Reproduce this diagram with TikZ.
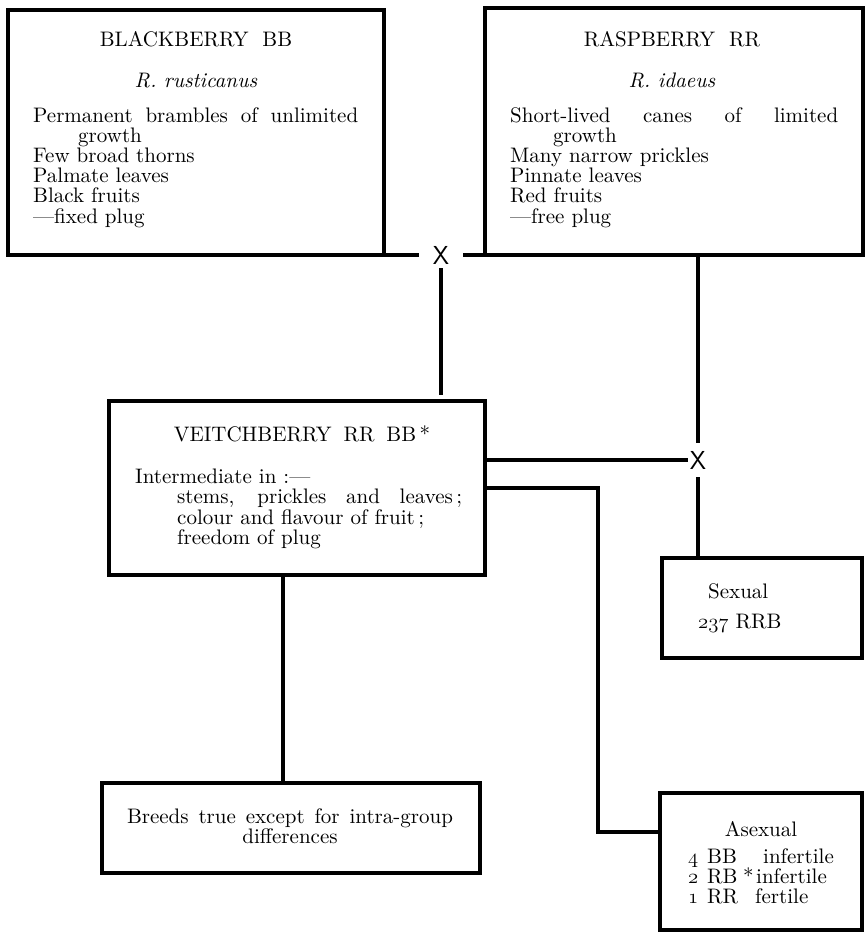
\documentclass[tikz,border=0pt]{standalone}
\usepackage{fontspec}
\setmainfont{lmroman10-regular.otf}[ItalicFont=lmroman10-italic.otf, Ligatures=TeX]
\usetikzlibrary{calc}
\newcommand\mainfs{\fontsize{21}{20.2}\selectfont}
\newcommand\osf[1]{{\fontencoding{OML}\fontfamily{cmm}\fontseries{m}\fontshape{it}\selectfont #1}}
\tikzset{
  box/.style={draw, line width=4pt, rectangle, inner sep=0pt, outer sep=0pt},
  conn/.style={line width=4pt},
  txt/.style={inner sep=0pt, font=\mainfs},
  cross/.style={font=\fontsize{26}{26}\selectfont\sffamily}
}
\begin{document}
\begin{tikzpicture}[x=1pt,y=-1pt]
\path[use as bounding box] (0,0) rectangle (866,934);

% boxes
\node[box, minimum width=375.5pt, minimum height=244.5pt] (bb) at (195.75,132.75) {};
\node[box, minimum width=377.5pt, minimum height=247pt] (rr) at (673.75,131.5) {};
\node[box, minimum width=376pt, minimum height=173.5pt] (vb) at (297,487.75) {};
\node[box, minimum width=200pt, minimum height=100pt] (sx) at (762,607.5) {};
\node[box, minimum width=377.5pt, minimum height=90pt] (br) at (290.75,827.5) {};
\node[box, minimum width=202.5pt, minimum height=137.5pt] (as) at (760.75,861.25) {};

% crosses
\node[cross, inner xsep=14pt, inner ysep=4pt] (x1) at (441,255) {X};
\node[cross, inner xsep=2pt, inner ysep=8pt] (x2) at (698,460) {X};

% Blackberry text
\node[txt, anchor=base] (bbt) at (196,47) {BLACKBERRY\hspace{14pt}BB};
\node[txt, anchor=base] (bbs) at (196,87) {\textit{R. rusticanus}};
\node[txt, anchor=base west] (bbl) at (33,122) {\parbox[t]{330pt}{\mainfs
\makebox[325pt][s]{Permanent brambles of unlimited}\\
\hspace*{45pt}growth\\
Few broad thorns\\
Palmate leaves\\
Black fruits\\
\textemdash fixed plug}};

% Raspberry text
\node[txt, anchor=base] (rrt) at (672,47) {RASPBERRY\hspace{14pt}RR};
\node[txt, anchor=base] (rrs) at (672,87) {\textit{R. idaeus}};
\node[txt, anchor=base west] (rrl) at (510,122) {\parbox[t]{335pt}{\mainfs
\makebox[328pt][s]{Short-lived canes of limited}\\
\hspace*{43pt}growth\\
Many narrow prickles\\
Pinnate leaves\\
Red fruits\\
\textemdash free plug}};

% Veitchberry text
\node[txt, anchor=base] (vbt) at (302,441) {VEITCHBERRY\hspace{12pt}RR\hspace{12pt}BB\,*};
\node[txt, anchor=base west] (vbl) at (135,483) {\parbox[t]{340pt}{\mainfs\setlength\baselineskip{20.5pt}
Intermediate in :\textemdash\\
\hspace*{42pt}\makebox[285pt][s]{stems, prickles and leaves\,;}\\
\hspace*{42pt}colour and flavour of fruit\,;\\
\hspace*{42pt}freedom of plug}};

% Sexual text
\node[txt, anchor=base west] (sx1) at (708,598) {Sexual};
\node[txt, anchor=base west] (sx2) at (698,628) {\osf{237} RRB};

% Breeds text
\node[txt, anchor=base] (br1) at (290,823) {\makebox[326pt][s]{Breeds true except for intra-group}};
\node[txt, anchor=base] (br2) at (290,843) {differences};

% Asexual text
\node[txt, anchor=base] (as1) at (761,836) {Asexual};
\node[txt, anchor=base west] (as2) at (688,863) {\parbox[t]{170pt}{\mainfs\setlength\baselineskip{20pt}
\makebox[19pt][l]{\osf{4}}\makebox[56pt][l]{BB}infertile\\
\makebox[19pt][l]{\osf{2}}\makebox[36pt][l]{RB}\makebox[13pt][l]{*}infertile\\
\makebox[19pt][l]{\osf{1}}\makebox[48pt][l]{RR}fertile}};

% connectors
\coordinate (bend) at (598,832);
\draw[conn] (bb.south east) -- (x1.west);
\draw[conn] (x1.east) -- (rr.south west);
\draw[conn, shorten >=6pt] (x1.south) -- (x1.south |- vb.north);
\draw[conn] (x2.north |- rr.south) -- (x2.north);
\draw[conn] (x2.west -| vb.east) -- (x2.west);
\draw[conn] (x2.south) -- (x2.south |- sx.north);
\draw[conn] (vb.east) -| (bend) -- (bend -| as.west);
\draw[conn] ([xshift=-14pt]vb.south) -- ([xshift=-14pt]vb.south |- br.north);
\end{tikzpicture}
\end{document}
